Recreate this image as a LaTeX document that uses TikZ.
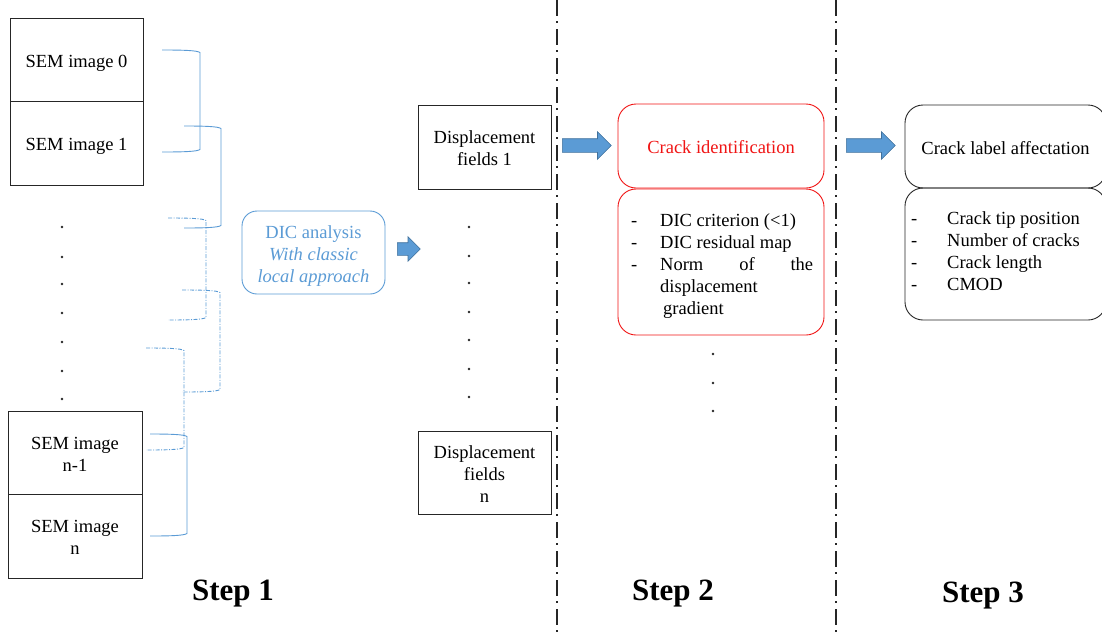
\documentclass[tikz,border=0pt]{standalone}
\usepackage{fontspec}
\setmainfont{Liberation Serif}
\usetikzlibrary{shapes.arrows}
\definecolor{dicblue}{RGB}{91,155,213}
\definecolor{arrowedge}{RGB}{65,113,156}
\definecolor{crackred}{RGB}{240,20,20}
\newcommand{\fstrut}{\rule[-6.6pt]{0pt}{29pt}}
\newcommand{\mybrk}[5]{%
  \draw[#1] (#2,#4) .. controls (#3-15,#4) and (#3-3,#4+0.5) .. (#3,#4+2.5)
    -- (#3,#5-2.5) .. controls (#3-3,#5-0.5) and (#3-15,#5) .. (#2,#5);}
\begin{document}
\begin{tikzpicture}[x=1pt,y=-1pt,
  txt/.style={font=\fontsize{18.5}{22}\selectfont},
  box/.style={txt,draw=black!85,line width=0.9pt,inner sep=0pt,align=center},
  bluebox/.style={txt,draw=dicblue,line width=0.9pt,rounded corners=15pt,inner sep=0pt,align=center,text=dicblue},
  redbox/.style={txt,draw=crackred,line width=0.9pt,rounded corners=18pt,inner sep=0pt,align=center,text=crackred},
  roundbox/.style={txt,draw=black!85,line width=0.9pt,rounded corners=18pt,inner sep=0pt,align=center},
  listtxt/.style={txt,inner sep=0pt,align=left,anchor=north west},
  bigarrow/.style={single arrow,fill=dicblue,draw=arrowedge,line width=0.6pt,inner xsep=0pt,anchor=tail},
  solidbrk/.style={draw=dicblue,line width=0.9pt},
  dotbrk/.style={draw=dicblue,line width=0.9pt,dash pattern=on 4pt off 1.5pt on 1pt off 1.5pt},
  sep/.style={draw=black!85,line width=1.6pt,dash pattern=on 16pt off 5pt on 2pt off 6pt},
  steplab/.style={font=\fontsize{31}{36}\selectfont\bfseries,inner sep=0pt,anchor=base},
  dotmark/.style={fill=black!85}
]
\useasboundingbox (0,0) rectangle (1102,632);

% separators
\draw[sep] (557,0) -- (557,632);
\draw[sep] (836,0) -- (836,632);

% SEM images
\node[box,minimum width=133pt,minimum height=83pt] (sem0) at (76.5,59.5) {\fstrut SEM image 0};
\node[box,minimum width=133pt,minimum height=84pt] (sem1) at (76.5,143) {\fstrut SEM image 1};
\node[box,minimum width=134pt,minimum height=83pt] (semn1) at (75,452.5) {\fstrut SEM image\\\strut n-1};
\node[box,minimum width=134pt,minimum height=84pt] (semn) at (75,536) {\fstrut SEM image\\\strut n};

\foreach \yy in {227,257,284,313,342,371,399} \fill[dotmark] (62,\yy) circle (1.3pt);

% brackets
\mybrk{solidbrk}{162}{200}{50}{152}
\mybrk{solidbrk}{184}{221}{126}{228}
\mybrk{dotbrk}{168}{206}{218}{320}
\mybrk{dotbrk}{182}{220}{290}{392}
\mybrk{dotbrk}{146}{184}{348}{450}
\mybrk{solidbrk}{150}{187}{434}{536}

% DIC analysis
\node[bluebox,minimum width=143pt,minimum height=83pt] (dic) at (313.5,252.5)
  {\fstrut DIC analysis\\\strut\textit{With classic}\\\strut\textit{local approach}};
\node[bigarrow,minimum height=23pt,inner ysep=6pt,single arrow head extend=6pt] (a1) at (397,249) {};

% displacement fields
\node[box,minimum width=133pt,minimum height=84pt] (disp1) at (484.5,147) {\fstrut Displacement\\\strut fields 1};
\node[box,minimum width=133pt,minimum height=83pt] (dispn) at (484.5,472.5) {\fstrut Displacement\\\strut fields\\\strut n};
\foreach \yy in {227,256,283,312,340,369,397} \fill[dotmark] (469,\yy) circle (1.3pt);

% step 2
\node[bigarrow,minimum height=49pt,inner ysep=6.5pt,single arrow head extend=7pt] (a2) at (562,145.5) {};
\node[redbox,minimum width=206pt,minimum height=84pt] (crackid) at (721,146) {\fstrut Crack identification};
\node[redbox,minimum width=206pt,minimum height=146pt] (crackcrit) at (721,262) {};
\node[listtxt] (critlist) at (631,210.5)
  {\strut\makebox[29pt][l]{-}DIC criterion (<1)\\
   \strut\makebox[29pt][l]{-}DIC residual map\\
   \strut\makebox[29pt][l]{-}\makebox[153pt][s]{Norm of the}\\
   \strut\hspace*{29pt}displacement\\
   \strut\hspace*{32pt}gradient};
\foreach \yy in {354,383,411} \fill[dotmark] (713,\yy) circle (1.3pt);

% step 3
\node[bigarrow,minimum height=49pt,inner ysep=6.5pt,single arrow head extend=7pt] (a3) at (846,145.5) {};
\node[roundbox,minimum width=201pt,minimum height=83pt] (label) at (1005.5,146.5) {\fstrut Crack label affectation};
\node[roundbox,minimum width=201pt,minimum height=132pt] (labellist) at (1005.5,254) {};
\node[listtxt] (lablist) at (911,209)
  {\strut\makebox[36pt][l]{-}Crack tip position\\
   \strut\makebox[36pt][l]{-}Number of cracks\\
   \strut\makebox[36pt][l]{-}Crack length\\
   \strut\makebox[36pt][l]{-}CMOD};

% step labels
\node[steplab] (s1) at (233,600) {Step 1};
\node[steplab] (s2) at (673,600) {Step 2};
\node[steplab] (s3) at (983,602) {Step 3};
\end{tikzpicture}
\end{document}
